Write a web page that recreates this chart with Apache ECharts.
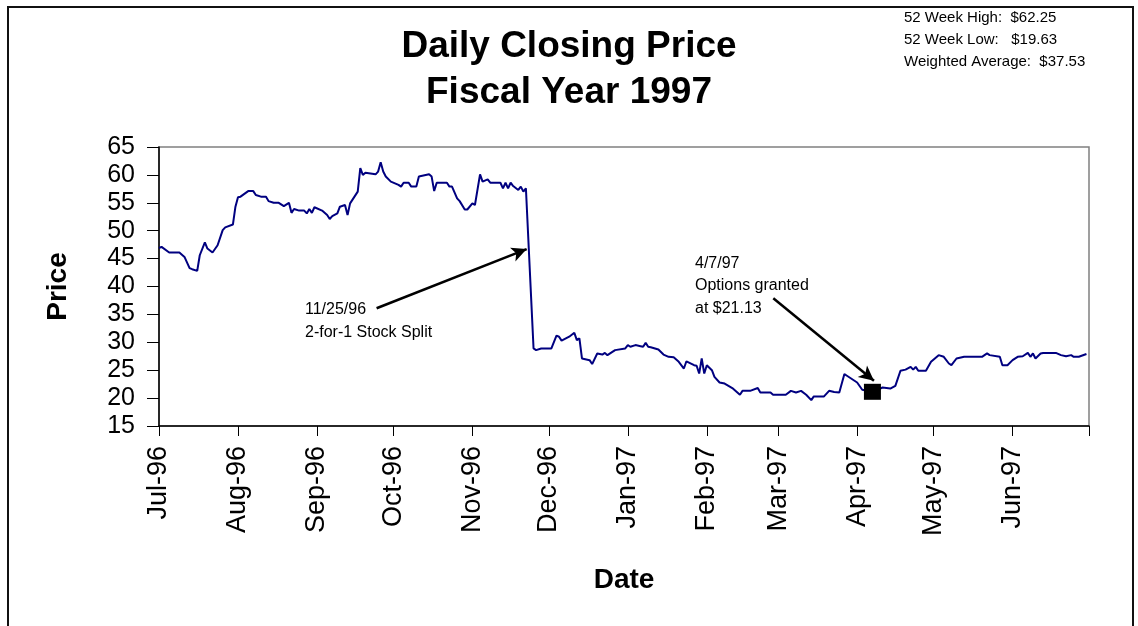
<!DOCTYPE html>
<html>
<head>
<meta charset="utf-8">
<script src="https://cdn.jsdelivr.net/npm/echarts@6/dist/echarts.min.js"></script>
<style>
  html, body { margin: 0; padding: 0; background: #fff; }
  #chart { width: 1138px; height: 626px; }
</style>
</head>
<body>
<div id="chart"></div>
<script>
// days after 1 Jul 1996
const dayOffsets = [
  0, 1, 4, 8, 10, 12, 13, 15, 16, 18, 19, 21, 23, 25, 26, 29, 30, 31, 32, 35,
  37, 38, 40, 42, 43, 45, 47, 49, 51, 52, 53, 55, 57, 58, 59, 60, 61, 64, 66, 67,
  68, 70, 71, 73, 74, 75, 78, 79, 80, 81, 85, 86, 87, 88, 89, 91, 94, 95, 96, 98,
  99, 101, 102, 106, 107, 108, 109, 113, 114, 115, 117, 118, 120, 121, 123, 124, 126, 127, 129, 130,
  134, 135, 136, 137, 138, 139, 141, 142, 143, 144, 147, 148, 150, 154, 156, 157, 158, 161, 163, 164,
  165, 166, 169, 170, 172, 174, 175, 176, 179, 183, 184, 185, 187, 189, 190, 191, 192, 193, 196, 198,
  200, 202, 204, 206, 207, 210, 211, 212, 213, 214, 215, 217, 218, 220, 222, 225, 228, 229, 232, 235,
  236, 240, 241, 246, 248, 250, 252, 254, 256, 257, 261, 263, 265, 267, 269, 270, 274, 276, 280, 284,
  287, 289, 291, 293, 295, 296, 297, 298, 301, 303, 306, 308, 310, 311, 313, 316, 323, 325, 326, 330,
  331, 333, 335, 337, 339, 341, 342, 343, 344, 346, 347, 352, 354, 356, 358, 359, 361, 364
];
// closing price for each day above
const closePrices = [
  46.9, 47.1, 46.1, 46.1, 45.3, 43.3, 43.1, 42.8, 45.6, 47.9, 46.8, 46.1, 47.4, 50.1, 50.6, 51.1, 54.3, 56.0, 56.1, 57.1,
  57.1, 56.4, 56.1, 56.1, 55.3, 55.0, 55.0, 54.4, 55.0, 53.2, 53.9, 53.6, 53.6, 53.1, 53.9, 53.2, 54.2, 53.6, 52.8, 52.1,
  52.6, 53.1, 54.3, 54.6, 52.8, 54.9, 57.0, 61.2, 60.0, 60.4, 60.1, 60.6, 62.25, 60.6, 59.7, 58.8, 58.2, 57.9, 58.6, 58.6,
  57.9, 57.9, 59.7, 60.1, 59.7, 57.1, 58.6, 58.6, 57.9, 57.9, 55.8, 55.3, 53.8, 53.8, 54.9, 54.6, 60.1, 58.8, 59.2, 58.6,
  58.6, 57.6, 58.6, 57.6, 58.6, 58.0, 57.3, 57.9, 57.0, 57.6, 28.9, 28.6, 28.9, 28.9, 31.2, 31.0, 30.3, 31.0, 31.7, 30.4,
  30.7, 27.1, 26.8, 26.1, 28.0, 27.8, 28.1, 27.7, 28.6, 28.9, 29.5, 29.2, 29.5, 29.3, 29.2, 29.9, 29.2, 29.1, 28.7, 27.8,
  27.4, 27.3, 26.5, 25.3, 26.6, 25.9, 25.8, 24.4, 27.1, 24.4, 25.9, 25.0, 23.8, 22.8, 22.6, 21.8, 20.6, 21.3, 21.3, 21.8,
  21.0, 21.0, 20.6, 20.6, 21.3, 21.0, 21.3, 20.6, 19.63, 20.3, 20.3, 21.3, 21.1, 21.0, 24.3, 24.0, 22.8, 21.5, 21.13, 21.9,
  21.7, 22.2, 24.9, 25.1, 25.6, 25.1, 25.6, 24.9, 24.9, 26.5, 27.7, 27.4, 26.2, 25.9, 27.1, 27.4, 27.4, 28.0, 27.7, 27.4,
  25.9, 25.9, 26.8, 27.4, 27.5, 28.1, 27.4, 28.0, 27.1, 28.0, 28.1, 28.1, 27.7, 27.5, 27.7, 27.4, 27.4, 27.9
];
// month ticks on the date axis (year, month index), last one has no label
const tickMonths = [
  [1996, 6], [1996, 7], [1996, 8], [1996, 9], [1996, 10], [1996, 11],
  [1997, 0], [1997, 1], [1997, 2], [1997, 3], [1997, 4], [1997, 5], [1997, 6]
];
const tickLabels = ['Jul-96', 'Aug-96', 'Sep-96', 'Oct-96', 'Nov-96', 'Dec-96',
  'Jan-97', 'Feb-97', 'Mar-97', 'Apr-97', 'May-97', 'Jun-97'];

// options grant: day offset (7 Apr 1997) and price
const grantDay = 280;
const grantPrice = 21.13;
// arrows: [fromDay, fromPrice, toDay, toPrice]
const arrowSpans = [
  [85.4, 36.1, 144.3, 46.7],
  [241.1, 37.9, 280.6, 23.1]
];

// month starts as day offsets from 1 Jul 1996
const startMs = Date.UTC(1996, 6, 1);
let tickDays = tickMonths.map(m => Math.round((Date.UTC(m[0], m[1], 1) - startMs) / 86400000));
let labelByDay = {};
tickDays.forEach((d, i) => { if (i < tickLabels.length) labelByDay[d] = tickLabels[i]; });

let seriesData = dayOffsets.map((d, i) => [d, closePrices[i]]);

const FONT = 'Arial, "Liberation Sans", sans-serif';

let chart = echarts.init(document.getElementById('chart'));

let option = {
  backgroundColor: '#fff',
  animation: false,
  title: {
    text: 'Daily Closing Price\nFiscal Year 1997',
    left: 'center',
    top: 19,
    textStyle: {
      fontFamily: FONT,
      fontSize: 37,
      fontWeight: 'bold',
      color: '#000',
      lineHeight: 46
    }
  },
  grid: {
    left: 159,
    right: 49,
    top: 147,
    bottom: 200,
    show: true,
    borderColor: '#808080',
    borderWidth: 1.5,
    backgroundColor: '#fff'
  },
  xAxis: {
    type: 'value',
    min: tickDays[0],
    max: tickDays[tickDays.length - 1],
    name: 'Date',
    nameLocation: 'middle',
    nameGap: 140,
    nameTextStyle: { fontFamily: FONT, fontSize: 28, fontWeight: 'bold', color: '#000' },
    axisLine: { lineStyle: { color: '#000', width: 1.5 } },
    axisTick: {
      show: true,
      length: 10,
      lineStyle: { color: '#000', width: 1 },
      customValues: tickDays
    },
    axisLabel: {
      rotate: 90,
      margin: 20,
      fontFamily: FONT,
      fontSize: 27,
      color: '#000',
      customValues: tickDays.slice(0, tickLabels.length),
      formatter: (val) => labelByDay[val] || ''
    },
    splitLine: { show: false }
  },
  yAxis: {
    type: 'value',
    min: 15,
    max: 65,
    interval: 5,
    name: 'Price',
    nameLocation: 'middle',
    nameRotate: 90,
    nameGap: 87,
    nameTextStyle: { fontFamily: FONT, fontSize: 28, fontWeight: 'bold', color: '#000' },
    axisLine: { show: true, lineStyle: { color: '#000', width: 1.5 } },
    axisTick: { show: true, length: 12, lineStyle: { color: '#000', width: 1 } },
    axisLabel: {
      margin: 24,
      fontFamily: FONT,
      fontSize: 25,
      color: '#000'
    },
    splitLine: { show: false }
  },
  series: [{
    type: 'line',
    data: seriesData,
    showSymbol: false,
    symbol: 'none',
    lineStyle: { color: '#000080', width: 2 },
    markPoint: {
      silent: true,
      symbol: 'rect',
      symbolSize: [17, 16],
      itemStyle: { color: '#000' },
      label: { show: false },
      data: [{ coord: [grantDay, grantPrice] }]
    },
    markLine: {
      silent: true,
      symbol: ['none', 'arrow'],
      symbolSize: [11, 15],
      lineStyle: { color: '#000', width: 2.5, type: 'solid' },
      label: { show: false },
      data: arrowSpans.map(a => [
        { coord: [a[0], a[1]] },
        { coord: [a[2], a[3]] }
      ])
    }
  }],
  graphic: [
    {
      type: 'rect',
      shape: { x: 8, y: 7, width: 1125, height: 640 },
      style: { fill: 'none', stroke: '#111', lineWidth: 2 },
      z: 10
    },
    {
      type: 'text',
      left: 904,
      top: 7,
      style: {
        text: '52 Week High:  $62.25\n52 Week Low:   $19.63\nWeighted Average:  $37.53',
        font: '15px ' + FONT,
        lineHeight: 22,
        fill: '#000'
      }
    },
    {
      type: 'text',
      left: 305,
      top: 298,
      style: {
        text: '11/25/96\n2-for-1 Stock Split',
        font: '16px ' + FONT,
        lineHeight: 23,
        fill: '#000'
      }
    },
    {
      type: 'text',
      left: 695,
      top: 252,
      style: {
        text: '4/7/97\nOptions granted\nat $21.13',
        font: '16px ' + FONT,
        lineHeight: 22.5,
        fill: '#000'
      }
    }
  ]
};

chart.setOption(option);
</script>
</body>
</html>
